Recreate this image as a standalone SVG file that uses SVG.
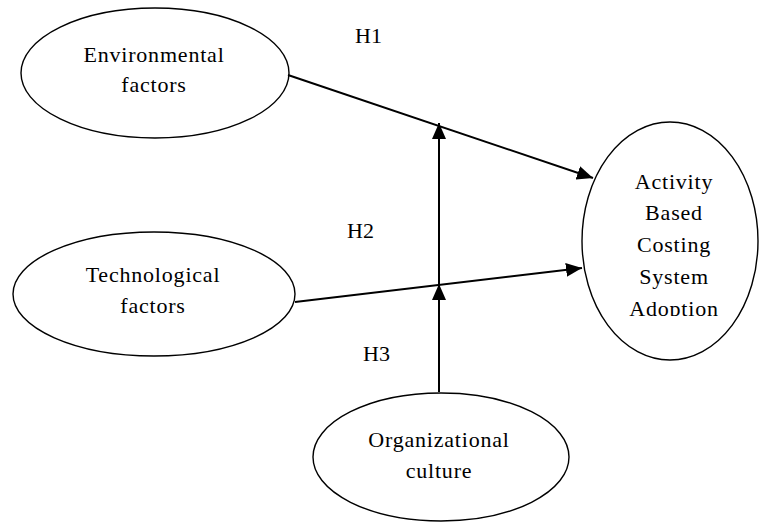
<svg xmlns="http://www.w3.org/2000/svg" width="759" height="522" viewBox="0 0 759 522">
  <style>
    .node ellipse { fill: #ffffff; stroke: #000000; stroke-width: 1.4; }
    .lbl { font-family: 'Liberation Serif', 'DejaVu Serif', serif; font-size: 22px; letter-spacing: 0.8px; fill: #000000; text-anchor: middle; }
    .hyp { font-family: 'Liberation Serif', 'DejaVu Serif', serif; font-size: 22px; fill: #000000; }
    .conn line { stroke: #000000; stroke-width: 2; }
  </style>
  <defs>
    <marker id="arrow" viewBox="0 0 16 14" refX="16" refY="7" markerWidth="16" markerHeight="14" markerUnits="userSpaceOnUse" orient="auto">
      <path d="M0,0 L16,7 L0,14 Z" fill="#000000"/>
    </marker>
    <clipPath id="abcClip">
      <rect x="580" y="120" width="180" height="196"/>
    </clipPath>
  </defs>
  <rect width="759" height="522" fill="#ffffff"/>

  <g id="environmental">
    <g class="node"><ellipse cx="155" cy="73" rx="134" ry="65"/></g>
    <text class="lbl" x="154" y="62" font-family="Liberation Serif, DejaVu Serif, serif">Environmental</text>
    <text class="lbl" x="154" y="92" font-family="Liberation Serif, DejaVu Serif, serif">factors</text>
  </g>

  <g id="technological">
    <g class="node"><ellipse cx="154" cy="294" rx="141" ry="62"/></g>
    <text class="lbl" x="153" y="282">Technological</text>
    <text class="lbl" x="153" y="313">factors</text>
  </g>

  <g id="organizational">
    <g class="node"><ellipse cx="441" cy="457" rx="128" ry="64"/></g>
    <text class="lbl" x="439" y="447">Organizational</text>
    <text class="lbl" x="439" y="478">culture</text>
  </g>

  <g id="abc">
    <g class="node"><ellipse cx="670" cy="241" rx="88" ry="119"/></g>
    <g clip-path="url(#abcClip)">
      <text class="lbl" x="674" y="189">Activity</text>
      <text class="lbl" x="674" y="220">Based</text>
      <text class="lbl" x="674" y="252">Costing</text>
      <text class="lbl" x="674" y="284">System</text>
      <text class="lbl" x="674" y="316">Adoption</text>
    </g>
  </g>

  <g id="connectors" class="conn">
    <line x1="288" y1="75" x2="593" y2="178" marker-end="url(#arrow)"/>
    <line x1="295" y1="302" x2="582" y2="268" marker-end="url(#arrow)"/>
    <line x1="439" y1="392" x2="439" y2="284" marker-end="url(#arrow)"/>
    <line x1="439" y1="284" x2="439" y2="123" marker-end="url(#arrow)"/>
  </g>

  <g id="hypotheses">
    <text class="hyp" x="355" y="43">H1</text>
    <text class="hyp" x="347" y="238">H2</text>
    <text class="hyp" x="363" y="361">H3</text>
  </g>
</svg>
